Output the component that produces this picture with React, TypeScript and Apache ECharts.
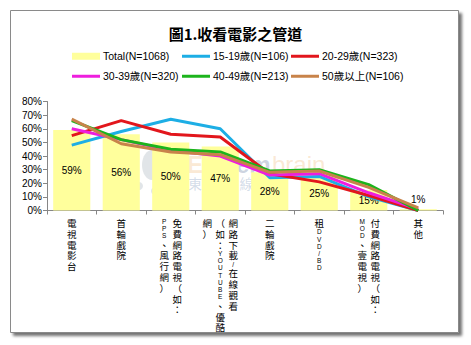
import React, { useEffect, useRef } from 'react';
import * as echarts from 'echarts';

// ---------- data ----------
const categories = [
  '電視電影台',
  '首輪戲院',
  '免費網路電視（如：PPS、風行網）',
  '網路下載/在線觀看（如：YOUTUBE、優酷網）',
  '二輪戲院',
  '租DVD/BD',
  '付費網路電視（如：MOD、壹電視）',
  '其他',
];
// how each category label wraps into vertical columns (right to left)
const labelColumns = [
  ['電視電影台'],
  ['首輪戲院'],
  ['免費網路電視（如：', 'PPS、風行網）'],
  ['網路下載/在線觀看', '（如：YOUTUBE、優酷', '網）'],
  ['二輪戲院'],
  ['租DVD/BD'],
  ['付費網路電視（如：', 'MOD、壹電視）'],
  ['其他'],
];
const seriesNames = [
  'Total(N=1068)',
  '15-19歲(N=106)',
  '20-29歲(N=323)',
  '30-39歲(N=320)',
  '40-49歲(N=213)',
  '50歲以上(N=106)',
];
const totalValues = [59, 56, 50, 47, 28, 25, 15, 1];
const age15to19 = [48, 58, 67, 60, 24, 25, 10, 0];
const age20to29 = [55, 66, 56, 54, 27, 21, 11, 0];
const age30to39 = [60, 52, 44, 40, 26, 27, 13, 1];
const age40to49 = [66, 52, 45, 43, 29, 30, 19, 0];
const age50plus = [67, 49, 43, 41, 28, 29, 17, 2];
const yAxisMin = 0;
const yAxisMax = 80;
const yAxisStep = 10;

const lineData = [age15to19, age20to29, age30to39, age40to49, age50plus];
const lineColors = ['#1DAEE5', '#E2161C', '#EE1EDE', '#1CB41C', '#C8834A'];
const barColor = '#FFFF9C';

const CJK_FONT = '"Noto Sans CJK TC", "Noto Sans CJK SC", sans-serif';
const LAT_FONT = '"Liberation Sans", Arial, sans-serif';
const COL_STEP = 13;
const GRID = { left: 47, right: 28, top: 101.5, bottom: 134.5 };

function colShift(n: number, k: number) {
  return ((n - 1) / 2 - k) * COL_STEP;
}
function isCJK(ch: string) {
  return ch.charCodeAt(0) >= 0x2e80;
}
function columnText(index: number, shift: number) {
  const cols = labelColumns[index];
  const k = cols.findIndex((_, j) => colShift(cols.length, j) === shift);
  if (k < 0) return '';
  return cols[k]
    .split('')
    .map((ch) => `{${isCJK(ch) ? 'c' : 'l'}|${ch}}`)
    .join('\n');
}

export default function App() {
  const ref = useRef<HTMLDivElement>(null);
  useEffect(() => {
    if (!ref.current) return;
    const chart = echarts.init(ref.current, undefined, { renderer: 'svg' });
    const rich = {
      c: { fontFamily: CJK_FONT, fontSize: 9.5, lineHeight: 10.8, color: '#000', align: 'center' },
      l: { fontFamily: LAT_FONT, fontSize: 6.5, lineHeight: 7.2, color: '#000', align: 'center' },
    };
    // shift 0 first (main grid), then the other column offsets
    const shifts: number[] = [0];
    labelColumns.forEach((cols) =>
      cols.forEach((_, k) => {
        const s = colShift(cols.length, k);
        if (!shifts.includes(s)) shifts.push(s);
      })
    );
    const grids = shifts.map((s) => ({
      left: GRID.left + s,
      right: GRID.right - s,
      top: GRID.top,
      bottom: GRID.bottom,
      containLabel: false,
    }));
    const xAxes = shifts.map((s, g) => ({
      type: 'category',
      data: categories,
      position: 'bottom',
      gridIndex: g,
      axisLine: { show: g === 0, lineStyle: { color: '#868686', width: 1 } },
      axisTick: { show: g === 0, length: 4, lineStyle: { color: '#868686' } },
      splitLine: { show: false },
      axisLabel: {
        interval: 0,
        margin: 7,
        formatter: (_v: string, i: number) => columnText(i, s),
        rich,
      },
    }));
    const yAxes = shifts.map((s, g) =>
      g === 0
        ? {
            type: 'value',
            gridIndex: 0,
            min: yAxisMin,
            max: yAxisMax,
            interval: yAxisStep,
            axisLine: { show: true, lineStyle: { color: '#868686' } },
            axisTick: { show: true, length: 4, lineStyle: { color: '#868686' } },
            splitLine: { show: false },
            axisLabel: { formatter: '{value}%', fontFamily: LAT_FONT, fontSize: 10, color: '#000', margin: 5 },
          }
        : { type: 'value', gridIndex: g, show: false, min: yAxisMin, max: yAxisMax, splitLine: { show: false } }
    );

    const legendPos = [
      [72, 57],
      [182, 57],
      [291, 57],
      [72, 77],
      [182, 77],
      [291, 77],
    ];
    const legends = seriesNames.map((name, i) => ({
      data: [name],
      left: legendPos[i][0],
      top: legendPos[i][1] - 6,
      padding: 0,
      icon: 'rect',
      itemWidth: 28,
      itemHeight: i === 0 ? 7 : 3,
      selectedMode: false,
      textStyle: { fontFamily: LAT_FONT + ', ' + CJK_FONT, fontSize: 10.5, color: '#000', padding: [0, 0, 0, -2] },
    }));

    chart.setOption({
      animation: false,
      backgroundColor: '#fff',
      title: {
        text: '圖1.收看電影之管道',
        left: 'center',
        top: 21,
        textStyle: { fontFamily: CJK_FONT, fontSize: 15, fontWeight: 'bold', color: '#000' },
      },
      legend: legends,
      grid: grids,
      xAxis: xAxes,
      yAxis: yAxes,
      graphic: [
        {
          type: 'rect',
          z: -10,
          shape: { x: 10.5, y: 10.5, width: 448, height: 322 },
          style: {
            fill: '#fff',
            stroke: '#8a8a8a',
            lineWidth: 1,
            shadowBlur: 3,
            shadowOffsetX: 3,
            shadowOffsetY: 3,
            shadowColor: 'rgba(0,0,0,0.55)',
          },
        },
        {
          type: 'group',
          z: 2,
          children: [
            { type: 'ellipse', shape: { cx: 152, cy: 165, rx: 10, ry: 15 }, style: { fill: 'rgba(170,180,190,0.35)' } },
            { type: 'circle', shape: { cx: 139, cy: 186, r: 4 }, style: { fill: 'rgba(170,180,190,0.35)' } },
            { type: 'circle', shape: { cx: 155, cy: 191, r: 4 }, style: { fill: 'rgba(170,180,190,0.35)' } },
            { type: 'circle', shape: { cx: 171, cy: 186, r: 4 }, style: { fill: 'rgba(170,180,190,0.35)' } },
            {
              type: 'text',
              x: 187,
              y: 152,
              style: { text: 'EOL', font: 'bold 24px "Liberation Sans", Arial', fill: 'rgba(245,205,160,0.45)' },
            },
            {
              type: 'text',
              x: 236,
              y: 152,
              style: { text: 'em', font: 'bold 24px "Liberation Sans", Arial', fill: 'rgba(110,130,165,0.35)' },
            },
            {
              type: 'text',
              x: 272,
              y: 152,
              style: { text: 'brain', font: '24px "Liberation Sans", Arial', fill: 'rgba(245,205,160,0.45)' },
            },
            {
              type: 'text',
              x: 188,
              y: 176,
              style: {
                text: '東 方 快 線 網 絡',
                font: '14px "Noto Sans CJK TC"',
                fill: 'rgba(130,155,190,0.35)',
              },
            },
          ],
        },
      ],
      series: [
        {
          name: seriesNames[0],
          type: 'bar',
          z: 1,
          xAxisIndex: 0,
          yAxisIndex: 0,
          barCategoryGap: '25%',
          itemStyle: { color: barColor },
          label: {
            show: true,
            position: 'inside',
            formatter: '{c}%',
            fontFamily: LAT_FONT,
            fontSize: 10,
            color: '#000',
          },
          data: totalValues.map((v) => (v < 5 ? { value: v, label: { position: 'top', distance: 5 } } : v)),
        },
        ...lineData.map((d, i) => ({
          name: seriesNames[i + 1],
          type: 'line',
          z: 3,
          xAxisIndex: 0,
          yAxisIndex: 0,
          color: lineColors[i],
          symbol: 'none',
          lineStyle: { width: 3, color: lineColors[i] },
          data: d,
        })),
      ],
    });
    return () => chart.dispose();
  }, []);
  return (
    <div
      ref={ref}
      style={{ position: 'absolute', left: 0, top: 0, width: 471, height: 345 }}
    />
  );
}
